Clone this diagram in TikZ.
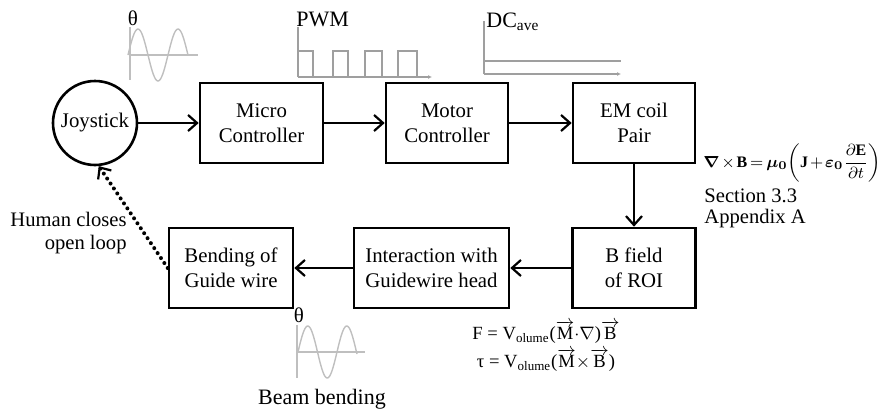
\documentclass[tikz,border=0pt]{standalone}
\usepackage{amsmath}
\usepackage{fontspec}
\setmainfont{Liberation Serif}
\usetikzlibrary{arrows.meta}
\begin{document}
\begin{tikzpicture}[x=0.5pt,y=-0.5pt,
  box/.style={draw, line width=1.3pt, minimum width=#1, minimum height=40pt, align=center, font=\fontsize{10.4}{12.5}\selectfont, inner sep=0pt},
  conn/.style={line width=1.1pt, -{Straight Barb[length=4.5pt,width=8pt,line width=1.1pt]}},
  sig/.style={gray!50, line width=0.7pt},
  pulse/.style={gray!75, line width=0.7pt},
  lbl/.style={font=\fontsize{10.5}{11.5}\selectfont, inner sep=0pt}]
\useasboundingbox (0,0) rectangle (879,413);
% blocks
\node[circle, draw, line width=1.3pt, minimum size=42pt, inner sep=0pt, font=\fontsize{10.4}{12.5}\selectfont] (joy) at (95,123) {Joystick};
\node[box=61.5pt] (micro) at (261.5,123) {Micro\\Controller};
\node[box=61pt] (motor) at (447,123) {Motor\\Controller};
\node[box=61pt] (em) at (634,123) {EM coil\\Pair};
\node[box=61.5pt] (bf) at (634,268) {B field\\of ROI};
\node[box=77.5pt] (inter) at (431.5,268) {Interaction with\\Guidewire head};
\node[box=62pt] (bend) at (231,268) {Bending of\\Guide wire};
% connectors
\draw[conn] (joy) -- (micro);
\draw[conn] (micro) -- (motor);
\draw[conn] (motor) -- (em);
\draw[conn] (em) -- (bf);
\draw[conn] (bf) -- (inter);
\draw[conn] (inter) -- (bend);
\draw[line width=2pt, line cap=round, dash pattern=on 0pt off 3pt, -{Straight Barb[length=4.5pt,width=8pt,line width=1.1pt]}] (bend.west) -- (joy.-85);
% top sine
\node[lbl] (th1) at (133,18) {θ};
\draw[sig] (130,27) -- (130,80) (130,55) -- (198,55);
\draw[sig, domain=128:188, samples=60, smooth] plot (\x, {55-26*sin(9*(\x-128))});
% PWM
\node[lbl, anchor=west, font=\fontsize{11}{12}\selectfont] (pwm) at (296,19) {PWM};
\draw[pulse, -{Latex[length=2pt,width=2pt]}] (298,77) -- (432,77);
\draw[pulse] (298,77) -- (298,27);
\draw[pulse] (298,51) -- (313,51) -- (313,77) (333,77) -- (333,51) -- (348,51) -- (348,77)
  (365,77) -- (365,51) -- (382,51) -- (382,77) (398,77) -- (398,51) -- (417,51) -- (417,77);
% DC
\node[lbl, anchor=west, font=\fontsize{11}{12}\selectfont] (dc) at (486,22) {DC\textsubscript{ave}};
\draw[pulse, -{Latex[length=2pt,width=2pt]}] (484,74) -- (621,74);
\draw[pulse] (484,74) -- (484,21);
\draw[pulse] (484,61) -- (621,61);
% right texts
\node[inner sep=0pt, anchor=west, font=\fontsize{8}{10}\selectfont] (maxw) at (703,163) {\medmuskip=2mu\thickmuskip=3mu$\boldsymbol{\nabla}\times\mathbf{B}=\boldsymbol{\mu_0}\!\left(\mathbf{J}+\boldsymbol{\varepsilon_0}\dfrac{\partial\mathbf{E}}{\partial t}\right)$};
\node[lbl, anchor=north west, align=left, font=\fontsize{10.3}{10.5}\selectfont] (sec) at (704,188) {Section 3.3\\Appendix A};
% left text
\node[lbl, anchor=east, align=right, font=\fontsize{10.3}{11.5}\selectfont] (human) at (127,233) {Human closes\\open loop};
% force equations
\node[inner sep=0pt, align=center, font=\fontsize{9.3}{14}\selectfont] (feq) at (546,346) {F = V\textsubscript{olume}($\overrightarrow{\mbox{M}}{\cdot}\nabla$)$\overrightarrow{\mbox{B}}$\\τ = V\textsubscript{olume}($\overrightarrow{\mbox{M}}{\times}\overrightarrow{\mbox{B}}$)};
% bottom sine
\node[lbl] (th2) at (299,315) {θ};
\draw[sig] (297,325) -- (297,378) (297,352) -- (365,352);
\draw[sig, domain=298:357, samples=60, smooth] plot (\x, {352-26*sin(9.23*(\x-298))});
\node[lbl, font=\fontsize{11}{12}\selectfont] (beam) at (322,399) {Beam bending};
\end{tikzpicture}
\end{document}
